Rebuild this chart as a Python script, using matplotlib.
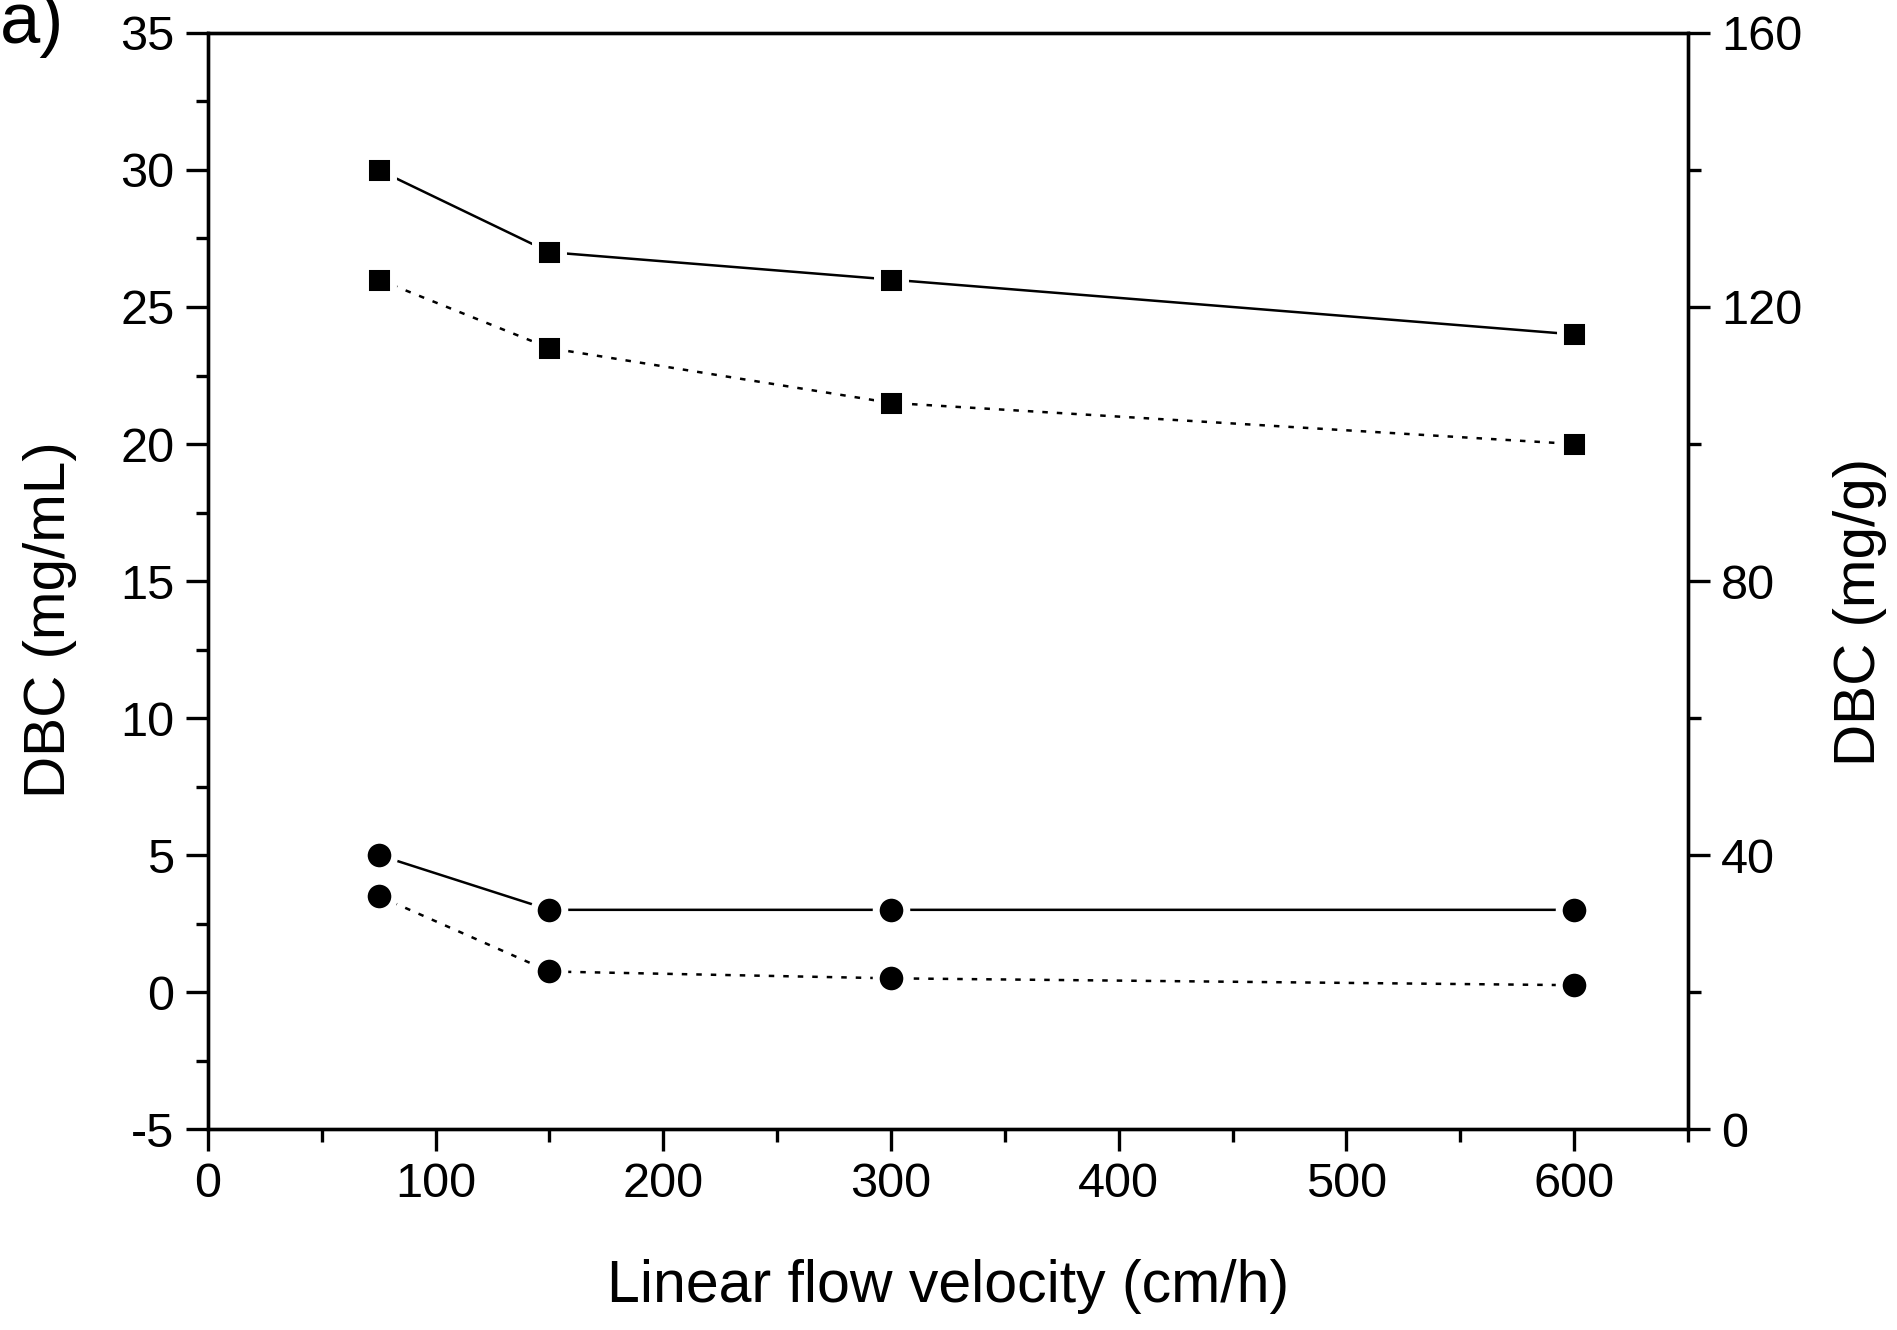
import matplotlib.pyplot as plt
from matplotlib.ticker import MultipleLocator

plt.rcParams['font.family'] = ['Liberation Sans', 'DejaVu Sans']
plt.rcParams['axes.unicode_minus'] = False

# Linear flow velocity (cm/h)
velocity = [75, 150, 300, 600]

# DBC (mg/mL)
sq_solid = [30, 27, 26, 24]
sq_dotted = [26, 23.5, 21.5, 20]
ci_solid = [5, 3, 3, 3]
ci_dotted = [3.5, 0.75, 0.5, 0.25]

fig = plt.figure(figsize=(18.97, 13.30), dpi=100)
ax = fig.add_axes([0.1096, 0.1511, 0.7802, 0.8241])
ax2 = ax.twinx()

style = dict(color='black', lw=1.8, mec='white', mew=5, mfc='black', clip_on=False)
dots = (0, (2.2, 3.6))
ax.plot(velocity, sq_solid, marker='s', ms=20, ls='-', **style)
ax.plot(velocity, sq_dotted, marker='s', ms=20, ls=dots, **style)
ax.plot(velocity, ci_solid, marker='o', ms=22, ls='-', **style)
ax.plot(velocity, ci_dotted, marker='o', ms=22, ls=dots, **style)

ax.set_xlim(0, 650)
ax.set_ylim(-5, 35)
ax2.set_ylim(0, 160)

ax.xaxis.set_major_locator(MultipleLocator(100))
ax.xaxis.set_minor_locator(MultipleLocator(50))
ax.yaxis.set_major_locator(MultipleLocator(5))
ax.yaxis.set_minor_locator(MultipleLocator(2.5))
ax2.yaxis.set_major_locator(MultipleLocator(40))
ax2.yaxis.set_minor_locator(MultipleLocator(20))

for a in (ax, ax2):
    for s in a.spines.values():
        s.set_linewidth(2.4)
    a.tick_params(which='major', direction='out', length=16, width=2.4, labelsize=35, pad=8)
    a.tick_params(which='minor', direction='out', length=9, width=2.4)

ax.set_xlabel('Linear flow velocity (cm/h)', fontsize=42.5, labelpad=37)
ax.set_ylabel('DBC (mg/mL)', fontsize=42, labelpad=31)
ax2.set_ylabel('DBC (mg/g)', fontsize=42, labelpad=22)
ax.yaxis.label.set_y(0.465)
ax2.yaxis.label.set_y(0.472)

fig.text(0.0, 0.968, 'a)', fontsize=52, ha='left', va='baseline')

fig.savefig('out.png', dpi=100)
